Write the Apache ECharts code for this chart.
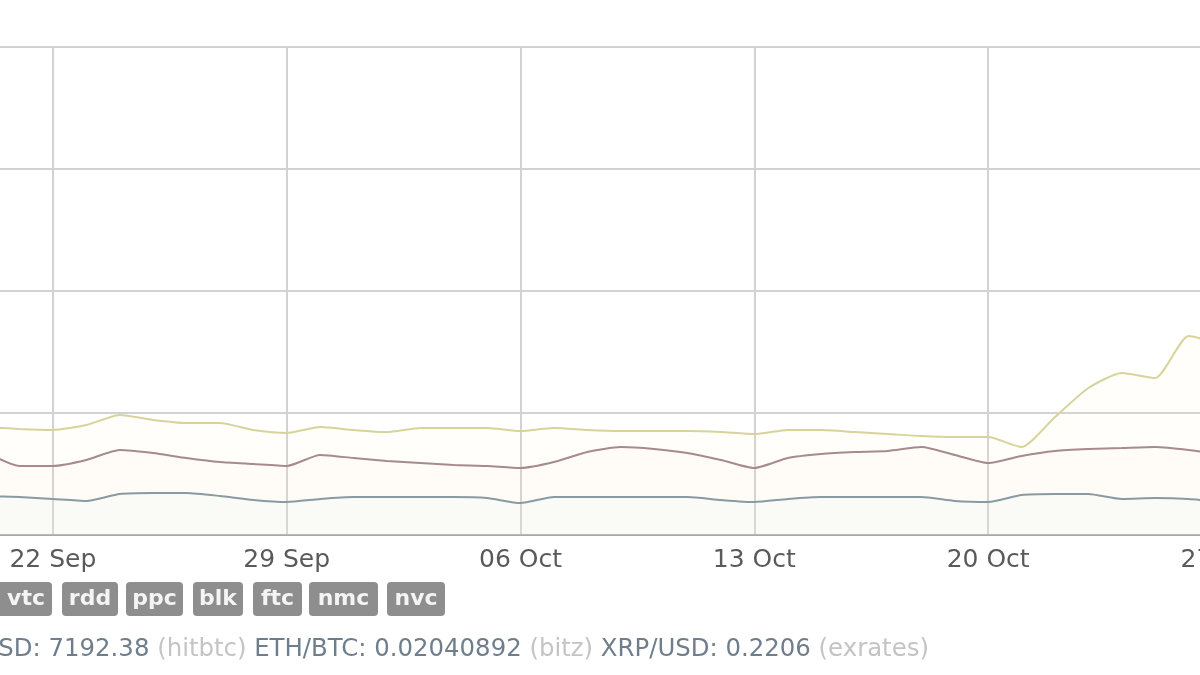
<!DOCTYPE html>
<html>
<head>
<meta charset="utf-8">
<script src="https://cdn.jsdelivr.net/npm/echarts@6/dist/echarts.min.js"></script>
<style>
html,body{margin:0;padding:0;background:#fff;}
#chart{width:1200px;height:675px;}
</style>
</head>
<body>
<div id="chart"></div>
<script>
// Days relative to 22 Sep (0 = 22 Sep)
const days = [-2,-1,0,1,2,3,4,5,6,7,8,9,10,11,12,13,14,15,16,17,18,19,20,21,22,23,24,25,26,27,28,29,30,31,32,33,34,35];
const yellowVals = [88.5,86.9,86.1,90.2,98.4,94.3,91.8,91.8,86.1,83.6,88.5,86.1,84.4,87.7,87.7,87.7,85.2,87.7,86.1,85.2,85.2,85.2,84.4,82.8,86.1,86.1,84.4,82.8,81.1,80.3,80.3,72.1,96.7,120.5,132.8,128.7,163.1,155.7];
const redVals = [68.0,56.6,56.6,61.5,69.7,67.2,63.1,59.8,58.2,56.6,65.6,63.1,60.7,59.0,57.4,56.6,54.9,59.8,68.0,72.1,70.5,67.2,61.5,54.9,63.1,66.4,68.0,68.9,72.1,65.6,59.0,64.8,68.9,70.5,71.3,72.1,69.7,65.6];
const blueVals = [32.0,31.1,29.5,27.9,33.6,34.4,34.4,32.0,28.7,27.0,29.5,31.1,31.1,31.1,31.1,30.3,26.2,31.1,31.1,31.1,31.1,31.1,28.7,27.0,29.5,31.1,31.1,31.1,31.1,27.9,27.0,32.8,33.6,33.6,29.5,30.3,29.5,27.0];
// Weekly tick labels starting at day -7
const tickLabels = ["15 Sep","22 Sep","29 Sep","06 Oct","13 Oct","20 Oct","27 Oct"];
const tagLabels = ["vtc","rdd","ppc","blk","ftc","nmc","nvc"];
const tickerParts = [
  ["BTC/USD: 7192.38", "(hitbtc)"],
  ["ETH/BTC: 0.02040892", "(bitz)"],
  ["XRP/USD: 0.2206", "(exrates)"]
];

const pairs = vals => days.map((d, i) => [d, vals[i]]);

const chart = echarts.init(document.getElementById('chart'), null, {renderer: 'canvas'});

// badge layout
const badgeX = [-6, 62, 126, 193, 253, 309, 387];
const badgeW = [58, 56, 57, 50, 49, 69, 58];
const graphics = [];
tagLabels.forEach((t, i) => {
  graphics.push({
    type: 'group', x: badgeX[i], y: 582,
    children: [
      {type: 'rect', shape: {x: 0, y: 0, width: badgeW[i], height: 34, r: 4}, style: {fill: '#8e8e8e'}},
      {type: 'text', x: badgeW[i] / 2 + (i === 0 ? 3 : 0), y: 17, style: {text: t, fill: '#f4f4f4', font: '600 22px "DejaVu Sans"', align: 'center', verticalAlign: 'middle'}}
    ]
  });
});
let richText = tickerParts.map(p => '{v|' + p[0] + '} {s|' + p[1] + '}').join(' ');
graphics.push({
  type: 'text', x: -75, y: 650,
  style: {
    text: richText,
    verticalAlign: 'middle',
    font: '24.4px "DejaVu Sans"',
    rich: {
      v: {fill: '#6f7e8c', font: '24.4px "DejaVu Sans"'},
      s: {fill: '#c4c4c4', font: '24.4px "DejaVu Sans"'}
    }
  }
});

const option = {
  animation: false,
  backgroundColor: '#ffffff',
  grid: {left: -181, right: -22, top: 47, bottom: 140, outerBoundsMode: 'none', containLabel: false},
  xAxis: {
    type: 'value', min: -7, max: 35, interval: 7,
    axisLine: {show: true, lineStyle: {color: '#a9a9a9', width: 2}},
    axisTick: {show: false},
    splitLine: {show: true, lineStyle: {color: '#d2d2d2', width: 2}},
    axisLabel: {
      show: true, margin: 13, color: '#5a5a5a',
      fontFamily: 'DejaVu Sans', fontSize: 25,
      showMinLabel: true, showMaxLabel: true,
      formatter: v => tickLabels[Math.round((v + 7) / 7)] || ''
    }
  },
  yAxis: {
    type: 'value', min: 0, max: 400, interval: 100,
    axisLine: {show: false}, axisTick: {show: false}, axisLabel: {show: false},
    splitLine: {show: true, lineStyle: {color: '#d2d2d2', width: 2}}
  },
  series: [
    {name: 'blue', type: 'line', data: pairs(blueVals), smooth: 0.2, showSymbol: false,
     lineStyle: {color: '#8a9aa1', width: 2}, areaStyle: {color: 'rgba(215,238,246,0.18)'}},
    {name: 'red', type: 'line', data: pairs(redVals), smooth: 0.2, showSymbol: false,
     lineStyle: {color: '#a68a8d', width: 2}, areaStyle: {color: 'rgba(248,220,220,0.07)'}},
    {name: 'yellow', type: 'line', data: pairs(yellowVals), smooth: 0.2, showSymbol: false,
     lineStyle: {color: '#d7d39b', width: 2}, areaStyle: {color: 'rgba(252,248,200,0.12)'}}
  ],
  graphic: graphics
};
chart.setOption(option);
</script>
</body>
</html>
